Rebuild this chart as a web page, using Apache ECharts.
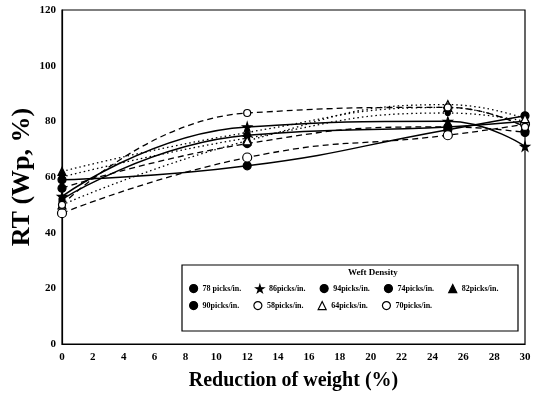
<!DOCTYPE html>
<html><head><meta charset="utf-8">
<script src="https://cdn.jsdelivr.net/npm/echarts@6/dist/echarts.min.js"></script>
<style>html,body{margin:0;padding:0;background:#fff}#c{width:540px;height:393px}</style>
</head><body><div id="c"></div>
<script>
const xValues = [0, 12, 25, 30];
const seriesNames = ['78 picks/in.', '86picks/in.', '94picks/in.', '74picks/in.', '82picks/in.', '90picks/in.', '58picks/in.', '64picks/in.', '70picks/in.'];
const s78 = [59, 64, 77, 82];
const s86 = [53, 78, 80, 71];
const s94 = [52, 75, 78, 80];
const s74 = [56, 72, 78, 76];
const s82 = [62, 76, 85, 78];
const s90 = [60, 74, 83, 80];
const s58 = [47, 67, 75, 79];
const s64 = [50, 73, 86, 81];
const s70 = [50, 83, 85, 78];
const xTicks = [0, 2, 4, 6, 8, 10, 12, 14, 16, 18, 20, 22, 24, 26, 28, 30];
const yTicks = [0, 20, 40, 60, 80, 100, 120];

const star = 'path://M50,0 L61,35 L98,35 L68,57 L79,91 L50,70 L21,91 L32,57 L2,35 L39,35 Z';
const allData = [s78, s86, s94, s74, s82, s90, s58, s64, s70];
const styles = [
  {sym: 'circle', size: 8, line: 'solid', fill: '#000'},
  {sym: star, size: 9, line: 'solid', fill: '#000'},
  {sym: 'circle', size: 6, line: 'solid', fill: '#000'},
  {sym: 'circle', size: 8, line: 'dashed', fill: '#000'},
  {sym: 'triangle', size: 8, line: 'dotted', fill: '#000'},
  {sym: 'circle', size: 5, line: 'dotted', fill: '#000'},
  {sym: 'circle', size: 9, line: 'dashed', fill: '#fff'},
  {sym: 'triangle', size: 8, line: 'dotted', fill: '#fff'},
  {sym: 'circle', size: 7, line: 'dashed', fill: '#fff'}
];

const series = seriesNames.map((n, i) => ({
  name: n, type: 'line', smooth: true,
  data: xValues.map((x, j) => [x, allData[i][j]]),
  symbol: styles[i].sym, symbolSize: styles[i].size,
  itemStyle: {color: styles[i].fill, borderColor: '#000', borderWidth: 1.2},
  lineStyle: {color: '#000', width: styles[i].line === 'solid' ? 1.5 : 1.3, type: styles[i].line === 'dashed' ? [6, 4] : (styles[i].line === 'dotted' ? [1.5, 3] : 'solid')},
  emphasis: {disabled: true}
}));

const ff = '"Liberation Serif", "DejaVu Serif", serif';
const legTxt = {fontFamily: ff, fontWeight: 'bold', fontSize: 8, color: '#000'};
const mkLegend = (names, top) => ({
  left: 189, top: top, orient: 'horizontal', itemGap: 14, itemWidth: 8, itemHeight: 8,
  padding: 0,
  data: names.map(n => {
    const st = styles[seriesNames.indexOf(n)];
    return {name: n, icon: st.sym, itemStyle: {color: st.fill, borderColor: '#000', borderWidth: 1.2}};
  }),
  itemStyle: {borderColor: '#000', borderWidth: 1.2},
  textStyle: legTxt, selectedMode: false
});

const chart = echarts.init(document.getElementById('c'));
chart.setOption({
  animation: false,
  grid: {left: 62, right: 15, top: 10, bottom: 49, containLabel: false, outerBoundsMode: 'none', show: true, borderColor: '#000', borderWidth: 1.2},
  xAxis: {type: 'value', min: 0, max: 30, interval: 2,
    axisLine: {lineStyle: {color: '#000', width: 1.2}}, axisTick: {show: false}, splitLine: {show: false},
    axisLabel: {fontFamily: ff, fontWeight: 'bold', fontSize: 11, color: '#000', margin: 8},
    name: 'Reduction of weight (%)', nameLocation: 'middle', nameGap: 27,
    nameTextStyle: {fontFamily: ff, fontWeight: 'bold', fontSize: 20, color: '#000'}},
  yAxis: {type: 'value', min: 0, max: 120, interval: 20,
    axisLine: {show: true, lineStyle: {color: '#000', width: 1.2}}, axisTick: {show: false}, splitLine: {show: false},
    axisLabel: {fontFamily: ff, fontWeight: 'bold', fontSize: 11, color: '#000', margin: 6},
    name: 'RT (Wp, %)', nameLocation: 'middle', nameGap: 27, nameMoveOverlap: false,
    nameTextStyle: {fontFamily: ff, fontWeight: 'bold', fontSize: 26, color: '#000'}},
  legend: [mkLegend(seriesNames.slice(0, 5), 284), mkLegend(seriesNames.slice(5), 301)],
  graphic: [
    {type: 'rect', shape: {x: 182, y: 265, width: 336, height: 66}, style: {fill: '#fff', stroke: '#000', lineWidth: 1.2}, z: -1},
    {type: 'text', left: 348, top: 268, style: {text: 'Weft Density', font: 'bold 9px "Liberation Serif"', fill: '#000'}}
  ],
  series: series
});
</script></body></html>
